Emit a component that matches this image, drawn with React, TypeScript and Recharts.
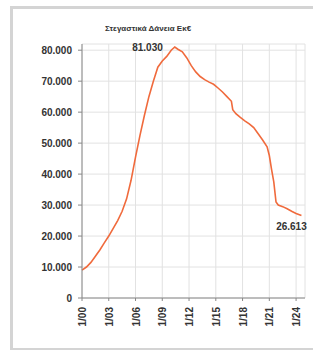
import React from "react";
import { LineChart, Line, XAxis, YAxis, CartesianGrid } from "recharts";

const years = [
  2000.0, 2000.5, 2001.0, 2001.5, 2002.0, 2002.5, 2003.0, 2003.5, 2004.0, 2004.5,
  2005.0, 2005.5, 2006.0, 2006.5, 2007.0, 2007.5, 2008.0, 2008.5, 2009.0, 2009.5,
  2010.0, 2010.4, 2010.75, 2011.25, 2011.75, 2012.25, 2012.75, 2013.25, 2013.75, 2014.25,
  2014.75, 2015.25, 2015.75, 2016.25, 2016.75, 2016.9, 2017.25, 2017.75, 2018.25, 2018.75,
  2019.25, 2019.75, 2020.25, 2020.75, 2021.0, 2021.25, 2021.5, 2021.75, 2022.0, 2022.5,
  2023.0, 2023.5, 2024.0, 2024.6,
];

const loans = [
  9000, 10000, 11500, 13500, 15500, 17800, 20000, 22500, 25000, 28000,
  32000, 38000, 45500, 52500, 59000, 65000, 70000, 74500, 76500, 78000,
  80000, 81030, 80300, 79500, 77500, 75000, 73000, 71500, 70500, 69700,
  69000, 67800, 66500, 65000, 63500, 60800, 59500, 58300, 57200, 56200,
  55000, 53000, 51000, 48800, 46000, 41500, 37500, 31000, 30000, 29500,
  28800, 28000, 27300, 26613,
];

const xTicks = [2000, 2003, 2006, 2009, 2012, 2015, 2018, 2021, 2024];
const xTickLabels = ["1/00", "1/03", "1/06", "1/09", "1/12", "1/15", "1/18", "1/21", "1/24"];
const yTicks = [0, 10000, 20000, 30000, 40000, 50000, 60000, 70000, 80000];

const title = "Στεγαστικά Δάνεια Εκ€";

const data = years.map((y, i) => ({ t: y, v: loans[i] }));

const fmt = (n: number) => n.toLocaleString("de-DE");

const peakIndex = loans.indexOf(Math.max(...loans));
const lastIndex = loans.length - 1;

const FONT = "'Liberation Sans', Arial, sans-serif";

const XTick = (props: any) => {
  const { x, y, payload } = props;
  const idx = xTicks.indexOf(payload.value);
  return (
    <text
      x={0}
      y={0}
      transform={`translate(${x + 4},${y + 4}) rotate(-90)`}
      textAnchor="end"
      fontSize={10}
      fontWeight="bold"
      fill="#333"
      fontFamily={FONT}
    >
      {idx >= 0 ? xTickLabels[idx] : ""}
    </text>
  );
};

const PointLabel = (props: any) => {
  const { x, y, index } = props;
  if (index === peakIndex) {
    return (
      <text x={x - 12} y={y + 4} textAnchor="end" fontSize={10} fontWeight="bold" fill="#333" fontFamily={FONT}>
        {fmt(loans[index])}
      </text>
    );
  }
  if (index === lastIndex) {
    return (
      <text x={x - 10} y={y + 14} textAnchor="middle" fontSize={10} fontWeight="bold" fill="#333" fontFamily={FONT}>
        {fmt(loans[index])}
      </text>
    );
  }
  return null;
};

export default function App() {
  return (
    <div style={{ position: "absolute", left: 0, top: 0, width: 313, height: 350, background: "#fff", overflow: "hidden" }}>
      <div
        style={{
          position: "absolute",
          left: 10,
          top: 6,
          width: 330,
          height: 339,
          border: "3px solid #d4d4d4",
          background: "#fff",
        }}
      />
      <div
        style={{
          position: "absolute",
          left: 0,
          top: 24,
          width: 296,
          textAlign: "center",
          fontSize: 8,
          fontWeight: "bold",
          fontFamily: FONT,
          color: "#333",
        }}
      >
        {title}
      </div>
      <div style={{ position: "absolute", left: 0, top: 0 }}>
        <LineChart width={313} height={350} data={data} margin={{ top: 44, right: 8, bottom: 12, left: 10 }}>
          <CartesianGrid stroke="#e2e2e2" strokeWidth={1} />
          <XAxis
            dataKey="t"
            type="number"
            domain={[2000, 2025]}
            ticks={xTicks}
            tick={<XTick />}
            tickSize={3}
            height={40}
            stroke="#888"
            interval={0}
          />
          <YAxis
            type="number"
            domain={[0, 82000]}
            ticks={yTicks}
            tickFormatter={fmt}
            width={72}
            tickSize={4}
            tickMargin={6}
            stroke="#888"
            tick={{ fontSize: 10, fontWeight: "bold", fill: "#333", fontFamily: FONT }}
            interval={0}
          />
          <Line
            type="linear"
            dataKey="v"
            stroke="#f06a3c"
            strokeWidth={1.6}
            dot={false}
            isAnimationActive={false}
            label={<PointLabel />}
          />
        </LineChart>
      </div>
    </div>
  );
}
